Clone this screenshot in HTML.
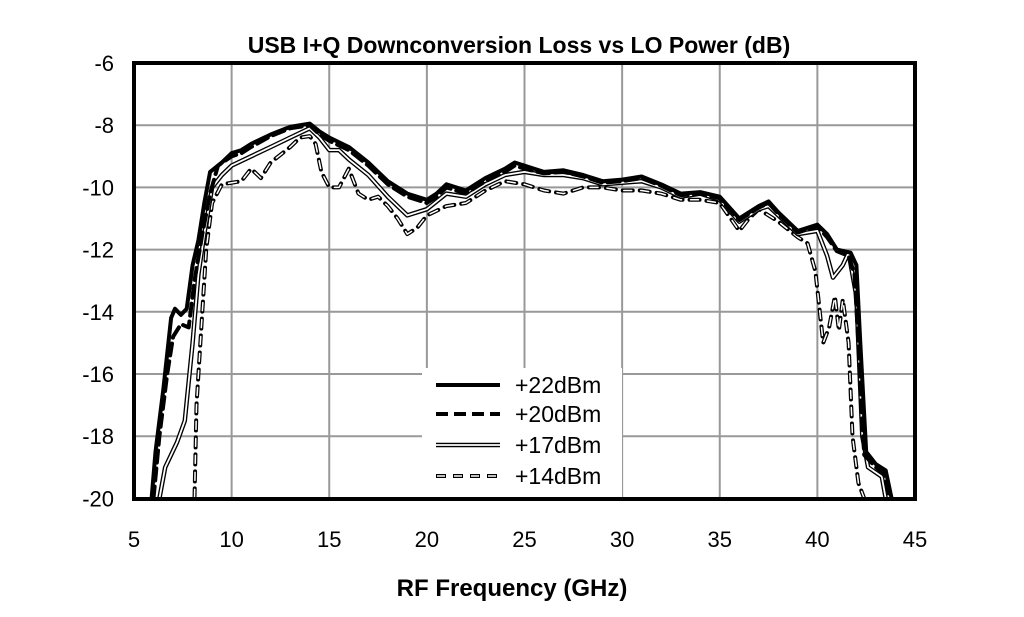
<!DOCTYPE html>
<html><head><meta charset="utf-8"><style>
html,body{margin:0;padding:0;background:#fff;}
svg{display:block;font-family:"Liberation Sans",sans-serif;}
</style></head><body>
<svg id="s" width="1024" height="617" xmlns="http://www.w3.org/2000/svg">
<rect width="1024" height="617" fill="#fff"/>
<g id="grid" stroke="#999" stroke-width="2"></g>
<g id="series" fill="none" stroke-linejoin="round" stroke-linecap="round"></g>
<rect x="422" y="368" width="200" height="129" fill="#fff"/>
<rect x="134" y="63" width="781" height="436" fill="none" stroke="#000" stroke-width="4"/>
<text x="519" y="53" text-anchor="middle" font-size="23" font-weight="bold">USB I+Q Downconversion Loss vs LO Power (dB)</text>
<g font-size="22" text-anchor="end" id="ylab"></g>
<g font-size="22" text-anchor="middle" id="xlab"></g>
<text x="512" y="596" text-anchor="middle" font-size="24" font-weight="bold">RF Frequency  (GHz)</text>
<g font-size="23">
<line x1="436" y1="385" x2="500" y2="385" stroke="#000" stroke-width="4"/>
<text x="515" y="393">+22dBm</text>
<line x1="436" y1="414" x2="500" y2="414" stroke="#000" stroke-width="4" stroke-dasharray="12,6"/>
<text x="515" y="422">+20dBm</text>
<line x1="436" y1="445" x2="500" y2="445" stroke="#000" stroke-width="4.5"/>
<line x1="436" y1="445" x2="500" y2="445" stroke="#fff" stroke-width="1.8"/>
<text x="515" y="453">+17dBm</text>
<line x1="436" y1="476" x2="500" y2="476" stroke="#000" stroke-width="4" stroke-dasharray="10,7"/>
<line x1="436" y1="476" x2="500" y2="476" stroke="#fff" stroke-width="1.5" stroke-dasharray="8,9" stroke-dashoffset="-1"/>
<text x="515" y="484">+14dBm</text>
</g>
</svg>
<script>
const X=f=>134+(f-5)*19.525, Y=d=>63+(-6-d)*31.1;
const NS="http://www.w3.org/2000/svg";
function el(p,t,a,txt){const e=document.createElementNS(NS,t);for(const k in a)e.setAttribute(k,a[k]);if(txt)e.textContent=txt;document.getElementById(p).appendChild(e);return e;}
for(let f=10;f<45;f+=5)el("grid","line",{x1:X(f),x2:X(f),y1:63,y2:499});
for(let d=-8;d>-20;d-=2)el("grid","line",{x1:134,x2:915,y1:Y(d),y2:Y(d)});
for(let d=-6;d>=-20;d-=2)el("ylab","text",{x:114,y:Y(d)+8},String(d));
for(let f=5;f<=45;f+=5)el("xlab","text",{x:X(f),y:547},f);
const s22=[[5.9,-20],[6.1,-18.5],[6.5,-16.5],[6.9,-14.2],[7.1,-13.9],[7.4,-14.1],[7.7,-13.9],[8,-12.5],[8.3,-11.7],[8.6,-10.5],[8.9,-9.5],[9.5,-9.2],[10,-8.9],[10.5,-8.8],[11,-8.6],[12,-8.3],[13,-8.05],[13.5,-8],[14,-7.95],[14.5,-8.2],[15,-8.4],[16,-8.7],[17,-9.2],[18,-9.8],[19,-10.2],[20,-10.4],[20.5,-10.2],[21,-9.9],[22,-10.1],[23,-9.7],[24,-9.4],[24.5,-9.2],[25,-9.3],[26,-9.5],[27,-9.45],[28,-9.6],[29,-9.8],[30,-9.75],[31,-9.65],[32,-9.9],[33,-10.2],[34,-10.15],[35,-10.3],[36,-11],[37,-10.6],[37.5,-10.45],[38,-10.8],[39,-11.4],[40,-11.2],[40.5,-11.5],[41,-12],[41.7,-12.1],[42,-12.5],[42.2,-15],[42.5,-18.5],[43,-18.9],[43.5,-19.1],[43.8,-20]];
const s20=[[6.0,-20],[6.3,-18],[6.7,-16],[7,-14.8],[7.4,-14.4],[7.8,-14.5],[8.1,-13],[8.5,-11.5],[8.9,-10.2],[9.3,-9.3],[10,-9.0],[10.5,-8.9],[11,-8.7],[12,-8.35],[13,-8.1],[14,-8.0],[14.5,-8.3],[15,-8.5],[16,-8.8],[17,-9.3],[18,-9.9],[19,-10.3],[20,-10.5],[20.5,-10.3],[21,-10.0],[22,-10.2],[23,-9.8],[24,-9.5],[24.5,-9.3],[25,-9.4],[26,-9.55],[27,-9.5],[28,-9.65],[29,-9.85],[30,-9.8],[31,-9.7],[32,-9.95],[33,-10.25],[34,-10.2],[35,-10.35],[36,-11.05],[37,-10.65],[37.5,-10.5],[38,-10.85],[39,-11.45],[40,-11.25],[40.5,-11.6],[41,-12.05],[41.6,-12.2],[41.9,-12.8],[42.1,-15],[42.4,-18.6],[43,-19],[43.4,-19.2],[43.7,-20]];
const s17=[[6.3,-20],[6.6,-19],[7.2,-18.2],[7.6,-17.5],[8,-15],[8.3,-12.8],[8.6,-11.5],[9,-10],[9.5,-9.6],[10,-9.3],[11,-9],[12,-8.7],[13,-8.4],[14,-8.1],[14.5,-8.4],[15,-8.8],[15.5,-8.8],[16,-9.1],[17,-9.6],[18,-10.3],[19,-10.9],[20,-10.7],[21,-10.2],[22,-10.3],[23,-9.9],[24,-9.6],[25,-9.5],[26,-9.6],[27,-9.6],[28,-9.7],[29,-9.9],[30,-9.85],[31,-9.8],[32,-10],[33,-10.3],[34,-10.2],[35,-10.4],[36,-11.1],[37,-10.7],[37.5,-10.6],[38,-10.9],[39,-11.5],[40,-11.4],[40.5,-12.2],[40.8,-12.9],[41.3,-12.5],[41.6,-12.1],[42,-13.5],[42.3,-18],[42.6,-19],[43.3,-19.3],[43.5,-20]];
const s14=[[8.1,-20],[8.2,-17],[8.5,-14],[8.7,-12],[9.0,-10.5],[9.5,-9.9],[10.5,-9.8],[11,-9.4],[11.5,-9.7],[12,-9.2],[13,-8.7],[13.5,-8.4],[14,-8.35],[14.3,-8.6],[14.6,-9.5],[15,-10],[15.5,-10],[16,-9.4],[16.5,-10.2],[17,-10.4],[17.5,-10.3],[18,-10.6],[18.5,-11],[19,-11.5],[19.5,-11.3],[20,-10.9],[21,-10.6],[22,-10.5],[23,-10.1],[24,-9.8],[25,-9.9],[26,-10.1],[27,-10.2],[28,-10.0],[29,-10.0],[30,-10.1],[31,-10.1],[32,-10.2],[33,-10.4],[34,-10.4],[35,-10.5],[36,-11.4],[36.5,-11],[37,-10.7],[38,-11.1],[39,-11.6],[39.5,-11.8],[39.9,-12.7],[40.3,-15],[40.6,-14.5],[40.9,-13.5],[41.1,-14.6],[41.3,-13.6],[41.6,-15],[41.8,-18],[42.1,-19.5],[42.4,-20]];
const P=a=>a.map((p,i)=>(i?"L":"M")+X(p[0]).toFixed(1)+","+Y(p[1]).toFixed(1)).join("");
el("series","path",{d:P(s14),stroke:"#000","stroke-width":4,"stroke-dasharray":"10,7"});
el("series","path",{d:P(s14),stroke:"#fff","stroke-width":1.5,"stroke-dasharray":"8,9","stroke-dashoffset":"-1"});
el("series","path",{d:P(s17),stroke:"#000","stroke-width":4.5});
el("series","path",{d:P(s17),stroke:"#fff","stroke-width":1.8});
el("series","path",{d:P(s20),stroke:"#000","stroke-width":4,"stroke-dasharray":"12,6"});
el("series","path",{d:P(s22),stroke:"#000","stroke-width":4});
</script>
</body></html>
